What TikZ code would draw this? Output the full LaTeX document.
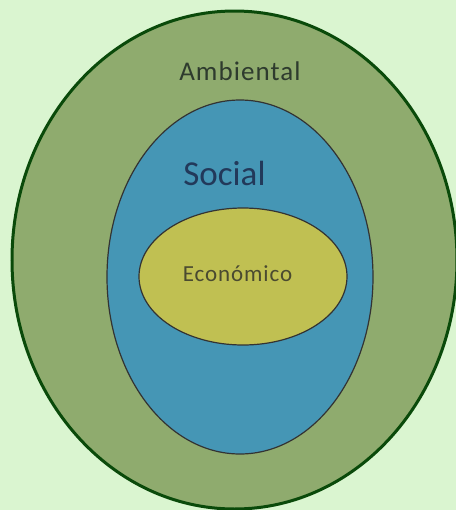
\documentclass[tikz,border=0pt]{standalone}
\usepackage{fontspec}
\setmainfont{Carlito}
\newfontfamily\spacedfont[LetterSpace=4]{Carlito}
\usetikzlibrary{shapes.geometric}

\definecolor{bgcol}{HTML}{DAF5D0}
\definecolor{ambcol}{HTML}{8FAB6E}
\definecolor{ambline}{HTML}{0A4A0A}
\definecolor{soccol}{HTML}{4596B5}
\definecolor{ecocol}{HTML}{C0C052}
\definecolor{ambtext}{HTML}{2E3B2E}
\definecolor{soctext}{HTML}{22395A}
\definecolor{ecotext}{HTML}{4A4A30}

\begin{document}
\begin{tikzpicture}[x=0.5pt, y=-0.5pt, inner sep=0pt]
  \fill[bgcol] (0,0) rectangle (456,510);
  \useasboundingbox (0,0) rectangle (456,510);
  \node[draw=ambline, line width=1.5pt, fill=ambcol, ellipse, minimum width=222.5pt, minimum height=249pt] (amb) at (234.5,260) {};
  \node[draw=black!80, line width=0.6pt, fill=soccol, ellipse, minimum width=133pt, minimum height=177pt] (soc) at (240,277) {};
  \node[draw=black!80, line width=0.6pt, fill=ecocol, ellipse, minimum width=104pt, minimum height=68.5pt] (eco) at (243,276.5) {};
  % Labels
  \node[text=ambtext, font=\spacedfont\fontsize{13.5}{16}\selectfont] (ambl) at (240,71) {Ambiental};
  \node[text=soctext, font=\fontsize{17.5}{20}\selectfont] (socl) at (224.5,173) {Social};
  \node[text=ecotext, font=\spacedfont\fontsize{11.5}{14}\selectfont] (ecol) at (237.5,274) {Económico};
\end{tikzpicture}
\end{document}
